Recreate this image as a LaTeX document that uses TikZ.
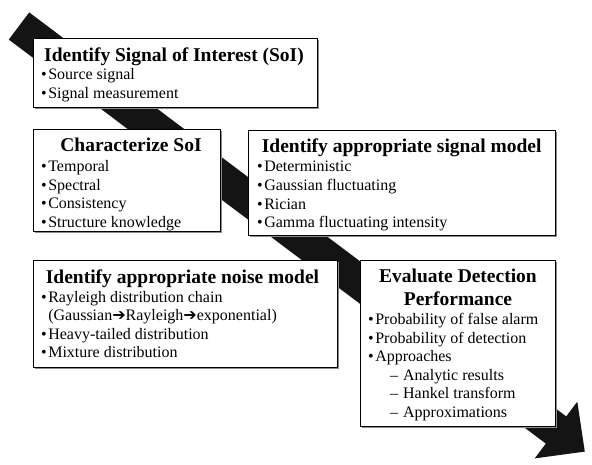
\documentclass[tikz,border=0pt]{standalone}
\usepackage{fontspec}
\setmainfont{Liberation Serif}
\newfontfamily\symfont{DejaVu Sans}
\usetikzlibrary{shadows}
\newcommand\bulletmark{\textbullet\hspace{1.5pt}}
\newcommand\subitemmark{\hspace*{22pt}–\hspace{5pt}}
\newcommand\chainarrow{{\symfont\bfseries ➔}}
\begin{document}
\begin{tikzpicture}[x=1pt,y=-1pt,
  box/.style={draw=black, line width=0.9pt, fill=white, anchor=north west,
    inner sep=0pt, drop shadow={shadow xshift=1.3pt, shadow yshift=-1.3pt, fill=black!45, opacity=1}},
  ttl/.style={font=\fontsize{19.5}{23}\selectfont\bfseries, inner sep=0pt, anchor=base},
  lst/.style={font=\fontsize{16}{18.6}\selectfont, inner sep=0pt, anchor=base west},
  flow/.style={fill=black!92},
]
\useasboundingbox (0,0) rectangle (592,465);

% the big diagonal process arrow behind the boxes
\coordinate (tailA) at (29.2,12.4);
\coordinate (tailB) at (8.8,39.6);
\coordinate (shaftB) at (545.8,443.6);
\coordinate (wingB) at (534.7,458.4);
\coordinate (tip) at (584.8,451.6);
\coordinate (wingA) at (577.3,401.7);
\coordinate (shaftA) at (566.2,416.4);
\fill[flow] (tailA) -- (tailB) -- (shaftB) -- (wingB) -- (tip) -- (wingA) -- (shaftA) -- cycle;

% boxes
\node[box, minimum width=284pt, minimum height=69pt] (soi) at (33,38) {};
\node[box, minimum width=187pt, minimum height=102pt] (char) at (33,129) {};
\node[box, minimum width=307pt, minimum height=105pt] (sigm) at (248,130) {};
\node[box, minimum width=304pt, minimum height=107pt] (noise) at (33,260) {};
\node[box, minimum width=195pt, minimum height=166pt] (eval) at (360,260) {};

% Identify Signal of Interest
\node[ttl] (soiT) at (174,62) {Identify Signal of Interest (SoI)};
\node[lst] (soiL) at (41,80) {\begin{tabular}[t]{@{}l@{}}
  \bulletmark Source signal\\
  \bulletmark Signal measurement
\end{tabular}};

% Characterize SoI
\node[ttl] (charT) at (131,152) {Characterize SoI};
\node[lst] (charL) at (41,171.5) {\begin{tabular}[t]{@{}l@{}}
  \bulletmark Temporal\\
  \bulletmark Spectral\\
  \bulletmark Consistency\\
  \bulletmark Structure knowledge
\end{tabular}};

% Identify appropriate signal model
\node[ttl] (sigmT) at (401.7,153) {Identify appropriate signal model};
\node[lst] (sigmL) at (257,172) {\begin{tabular}[t]{@{}l@{}}
  \bulletmark Deterministic\\
  \bulletmark Gaussian fluctuating\\
  \bulletmark Rician\\
  \bulletmark Gamma fluctuating intensity
\end{tabular}};

% Identify appropriate noise model
\node[ttl] (noiseT) at (182.5,283.5) {Identify appropriate noise model};
\node[lst] (noiseL) at (41,302) {\begin{tabular}[t]{@{}l@{}}
  \bulletmark Rayleigh distribution chain\\
  \hspace*{7.1pt}(Gaussian\chainarrow Rayleigh\chainarrow exponential)\\
  \bulletmark Heavy-tailed distribution\\
  \bulletmark Mixture distribution
\end{tabular}};

% Evaluate Detection Performance
\node[ttl] (evalT) at (458,283) {\begin{tabular}[t]{@{}c@{}}
  Evaluate Detection\\
  Performance
\end{tabular}};
\node[lst] (evalL) at (368,324.5) {\begin{tabular}[t]{@{}l@{}}
  \bulletmark Probability of false alarm\\
  \bulletmark Probability of detection\\
  \bulletmark Approaches\\
  \subitemmark Analytic results\\
  \subitemmark Hankel transform\\
  \subitemmark Approximations
\end{tabular}};
\end{tikzpicture}
\end{document}
